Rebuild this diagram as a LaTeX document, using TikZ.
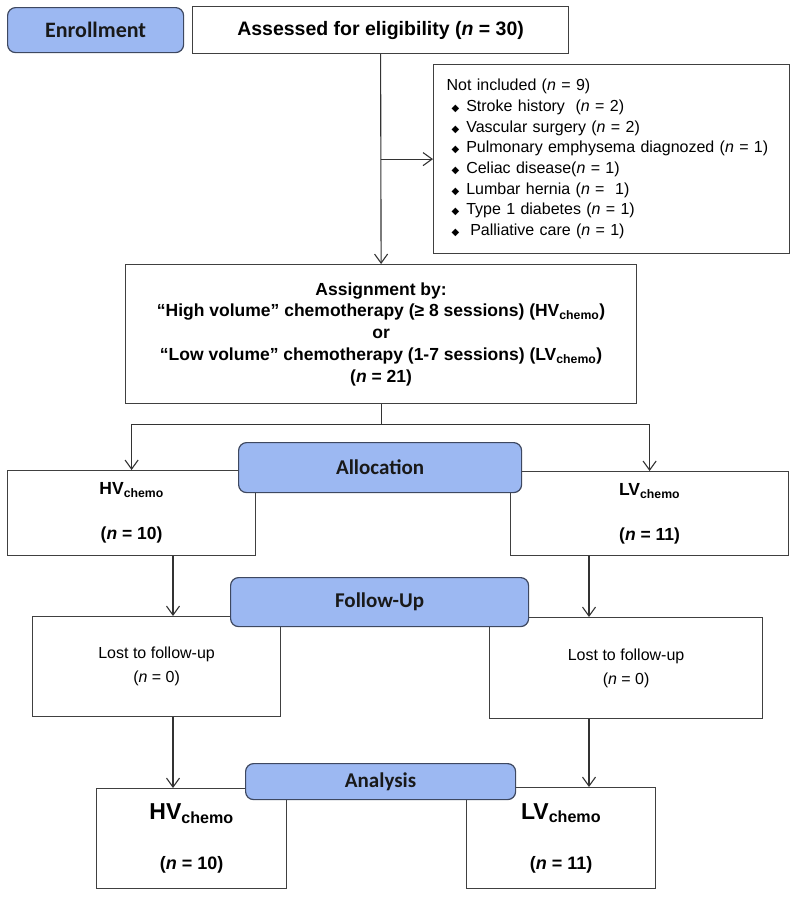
\documentclass[tikz,border=0pt]{standalone}
\usepackage{fontspec}
\setmainfont{Liberation Sans}
\newfontfamily\stagefont{Carlito}
\newfontfamily\symfont{DejaVu Sans}
\usepackage{xcolor}
\usepackage{tikz}
\usetikzlibrary{arrows.meta, positioning, calc}
\definecolor{StageBlue}{RGB}{156, 184, 242}
\definecolor{StageEdge}{RGB}{62, 72, 96}
\definecolor{BoxEdge}{RGB}{64, 64, 64}
\newcommand{\dmd}{{\symfont\fontsize{10}{10}\selectfont ◆}}
\newcommand{\nn}{\textit{n}}

\tikzset{
  flowbox/.style={draw=BoxEdge, line width=1.2pt, fill=white, anchor=north west, inner sep=0pt, align=center},
  stagebox/.style={draw=StageEdge, line width=1.2pt, fill=StageBlue, rounded corners=8pt, anchor=north west, inner sep=0pt, font=\stagefont\bfseries\fontsize{21}{21}\selectfont, text=black!90},
  flowline/.style={draw=black!80, line width=1.1pt},
  flowarrow/.style={flowline, -{Straight Barb[length=9pt, width=13pt, line width=1.1pt]}}
}

\begin{document}
\begin{tikzpicture}[x=1pt, y=-1pt]
    \fill[white] (0,0) rectangle (794,897);
    \useasboundingbox (0,0) rectangle (794,897);

    \node[flowbox, minimum width=376pt, minimum height=47pt, font=\bfseries\fontsize{19.5}{22}\selectfont] (assess) at (192,6) {Assessed for eligibility (\nn{} = 30)};
    \node[flowbox, minimum width=356pt, minimum height=189pt, align=left, text width=330pt, inner xsep=13pt, font=\fontsize{16}{20.7}\selectfont] (notinc) at (433,64) {
      Not included (\nn{} = 9)\\
      \hspace*{5pt}\dmd\hspace{7pt}Stroke history\ \ (\nn{} = 2)\\
      \hspace*{5pt}\dmd\hspace{7pt}Vascular surgery (\nn{} = 2)\\
      \hspace*{5pt}\dmd\hspace{7pt}Pulmonary emphysema diagnozed (\nn{} = 1)\\
      \hspace*{5pt}\dmd\hspace{7pt}Celiac disease(\nn{} = 1)\\
      \hspace*{5pt}\dmd\hspace{7pt}Lumbar hernia (\nn{} =\ \ 1)\\
      \hspace*{5pt}\dmd\hspace{7pt}Type 1 diabetes (\nn{} = 1)\\
      \hspace*{5pt}\dmd\hspace{11pt}Palliative care (\nn{} = 1)};
    \node[flowbox, minimum width=511pt, minimum height=139pt, font=\bfseries\fontsize{17.5}{21.75}\selectfont] (assign) at (125,264) {
      Assignment by:\\
      “High volume” chemotherapy (≥ 8 sessions) (HV\textsubscript{chemo})\\
      or\\
      “Low volume” chemotherapy (1-7 sessions) (LV\textsubscript{chemo})\\
      (\nn{} = 21)};

    \node[flowbox, minimum width=248pt, minimum height=85pt, font=\bfseries\fontsize{17.5}{45}\selectfont] (hv) at (7,470) {HV\textsubscript{chemo}\\(\nn{} = 10)};
    \node[flowbox, minimum width=278pt, minimum height=84pt, font=\bfseries\fontsize{17.5}{45}\selectfont] (lv) at (510,471) {LV\textsubscript{chemo}\\(\nn{} = 11)};

    \node[flowbox, minimum width=248pt, minimum height=100pt, font=\fontsize{16}{24}\selectfont] (lostL) at (32,616) {Lost to follow-up\\(\nn{} = 0)};
    \node[flowbox, minimum width=273pt, minimum height=101pt, font=\fontsize{16}{24}\selectfont] (lostR) at (489,617) {Lost to follow-up\\(\nn{} = 0)};

    \node[flowbox, minimum width=190pt, minimum height=100pt, font=\bfseries\fontsize{18}{50}\selectfont] (hvfin) at (96,788) {{\fontsize{23}{50}\selectfont HV\textsubscript{chemo}}\\(\nn{} = 10)};
    \node[flowbox, minimum width=189pt, minimum height=101pt, font=\bfseries\fontsize{18}{50}\selectfont] (lvfin) at (466,787) {{\fontsize{23}{50}\selectfont LV\textsubscript{chemo}}\\(\nn{} = 11)};

    \coordinate (lcol) at (173,0);
    \coordinate (rcol) at (589,0);
    \draw[flowarrow] (assess.south) -- (assign.north);
    \draw[flowarrow] (assess.south |- notinc.west) -- (notinc.west);
    \draw[flowarrow] (assign.south) -- ++(0,20) -| (hv.north);
    \draw[flowarrow] (assign.south) -- ++(0,20) -| (lv.north);
    \draw[flowarrow] (hv.south -| lcol) -- (lostL.north -| lcol);
    \draw[flowarrow] (lv.south -| rcol) -- (lostR.north -| rcol);
    \draw[flowarrow] (lostL.south -| lcol) -- (hvfin.north -| lcol);
    \draw[flowarrow] (lostR.south -| rcol) -- (lvfin.north -| rcol);

    \node[stagebox, minimum width=176pt, minimum height=45pt, font=\stagefont\bfseries\fontsize{22}{22}\selectfont] (enroll) at (7,7) {Enrollment};
    \node[stagebox, minimum width=283pt, minimum height=50pt] (alloc) at (238,442) {Allocation};
    \node[stagebox, minimum width=298pt, minimum height=49pt] (follow) at (230,577) {Follow-Up};
    \node[stagebox, minimum width=270pt, minimum height=36pt] (analysis) at (245,763) {Analysis};
\end{tikzpicture}
\end{document}
